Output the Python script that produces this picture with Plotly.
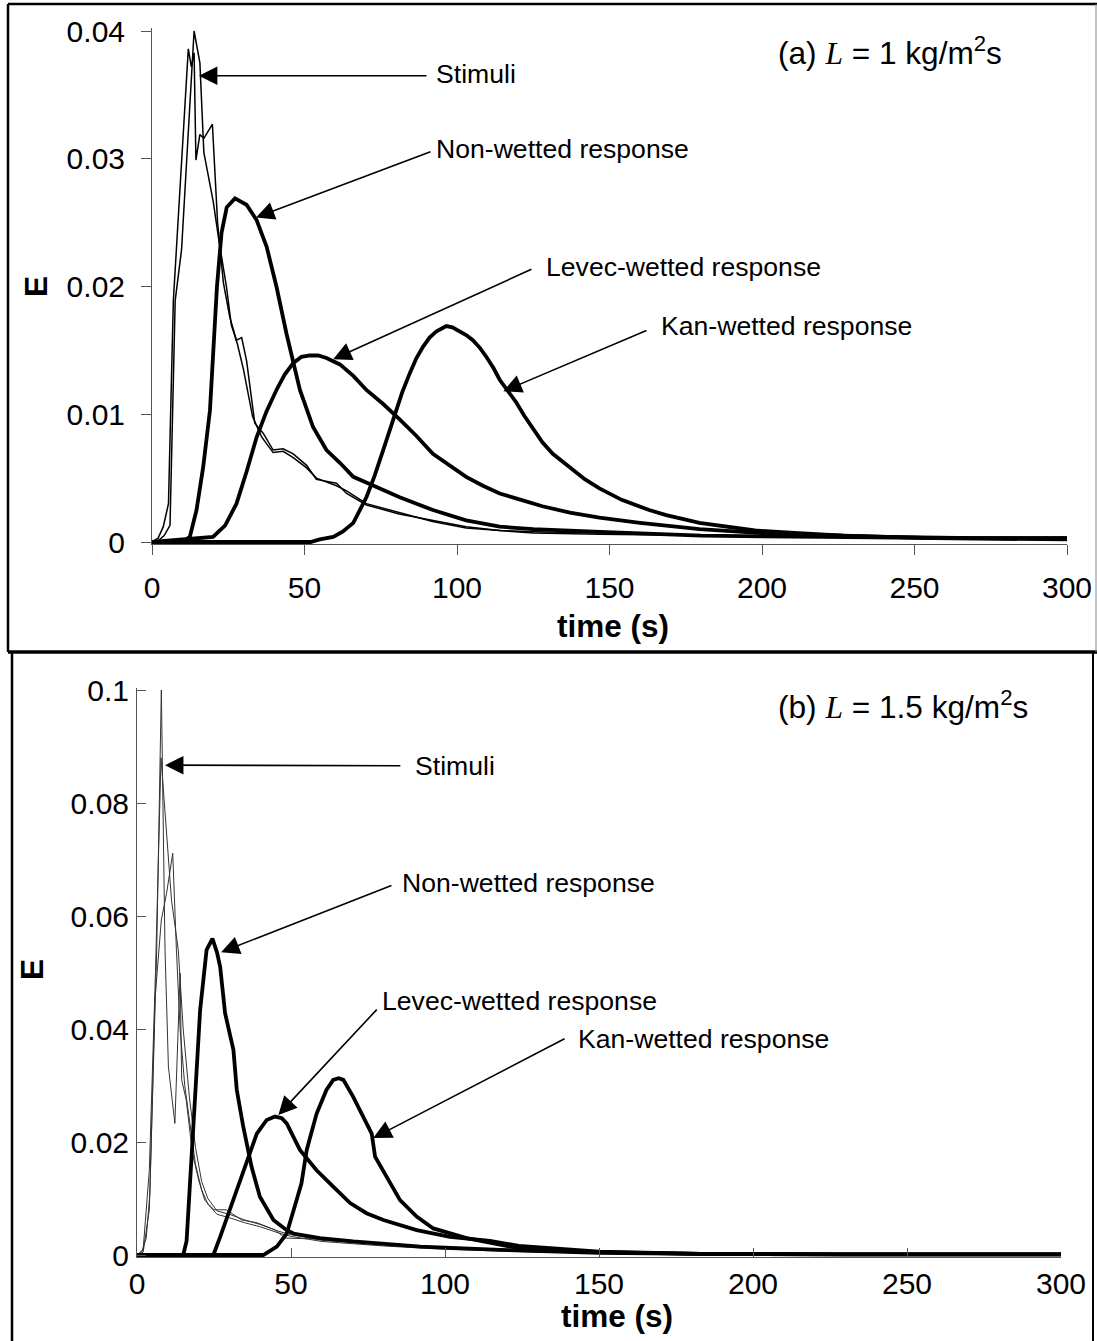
import plotly.graph_objects as go

# ---------------- data: panel (a), L = 1 kg/m2s ----------------
a_stim1_t = [0, 2, 3.7, 5.4, 7, 11.9, 12.9, 13.8, 14.4, 15.7, 17, 19.8, 21.5, 23.4, 25.5, 27.7, 29.4, 31, 33.7,
             36.5, 39.7, 43, 46.3, 50.7, 53.9, 60.5, 63.8, 70.3, 81, 92, 103, 114, 125, 147, 180, 220, 260, 300]
a_stim1_E = [0, 0.0003, 0.0012, 0.003, 0.0189, 0.0386, 0.0372, 0.0383, 0.0299, 0.0319, 0.0316, 0.0327, 0.0250,
             0.0203, 0.0176, 0.0158, 0.0160, 0.0142, 0.0093, 0.0085, 0.0072, 0.0073, 0.0069, 0.0060, 0.0049,
             0.0046, 0.0038, 0.0029, 0.0022, 0.0017, 0.0012, 0.0009, 0.0008, 0.0007, 0.0005, 0.0004, 0.0003, 0.0002]

a_stim2_t = [0, 2, 4, 5.9, 7.6, 9.7, 13.8, 15.7, 17, 20.1, 22, 24.4, 26, 28, 30, 33, 36, 39.7, 43, 46.3, 50.7,
             53.9, 60.5, 63.8, 70.3, 81, 92, 103, 114, 125, 147, 180, 220, 260, 300]
a_stim2_E = [0, 0.0001, 0.0005, 0.0013, 0.0189, 0.0229, 0.0400, 0.0375, 0.0305, 0.0266, 0.0235, 0.0200, 0.0170,
             0.0155, 0.0135, 0.0098, 0.0082, 0.0070, 0.0071, 0.0066, 0.0058, 0.0050, 0.0044, 0.0040, 0.0030,
             0.0023, 0.0016, 0.0011, 0.0009, 0.0007, 0.0006, 0.0005, 0.0004, 0.0003, 0.0002]

a_nonwet_t = [0, 10, 12.4, 14.6, 16.8, 19, 21.3, 22.8, 24.5, 27.2, 31, 34.3, 37.6, 40.8, 44.1, 48.5, 52.8, 57.2,
              61.6, 66, 73.6, 81.2, 92.1, 103, 114, 125, 147, 180, 220, 260, 300]
a_nonwet_E = [0, 0, 0.0004, 0.0025, 0.0059, 0.0103, 0.0200, 0.0242, 0.0262, 0.0269, 0.0264, 0.0252, 0.0231,
              0.0200, 0.0163, 0.0119, 0.0090, 0.0072, 0.0062, 0.0051, 0.0043, 0.0035, 0.0025, 0.0017, 0.0012,
              0.0010, 0.0008, 0.0005, 0.0004, 0.0003, 0.0003]

a_levec_t = [0, 20, 24, 27.7, 31, 34.3, 37.5, 40.8, 43.5, 46.3, 49, 51.8, 54.5, 57.2, 61.6, 66, 70.3, 75.8, 81.2,
             86.7, 92.1, 97.6, 103, 108.5, 114, 121, 128, 137, 146.7, 160, 179.5, 200, 212, 240, 270, 300]
a_levec_E = [0, 0.0004, 0.0013, 0.0030, 0.0055, 0.0082, 0.0102, 0.0119, 0.0131, 0.0140, 0.0145, 0.0146, 0.0146,
             0.0144, 0.0139, 0.0130, 0.0119, 0.0108, 0.0096, 0.0083, 0.0069, 0.0060, 0.0051, 0.0044, 0.0038,
             0.0033, 0.0028, 0.0023, 0.0019, 0.0015, 0.0010, 0.0007, 0.0006, 0.0004, 0.0003, 0.0003]

a_kan_t = [0, 52, 55, 59.4, 62.5, 66, 70.3, 73, 75.8, 78, 80.1, 82, 84.5, 86.7, 88.9, 91, 93.3, 96.5, 98.5, 100.9,
           103, 105.2, 107.5, 109.6, 112, 114, 117, 119.5, 122, 125, 128, 131.4, 135, 138, 142, 146.7, 154, 163,
           168.6, 179.5, 197.7, 212, 226.7, 256, 300]
a_kan_E = [0, 0, 0.0002, 0.0004, 0.0008, 0.0015, 0.0035, 0.0052, 0.0072, 0.0088, 0.0103, 0.0117, 0.0132, 0.0144,
           0.0153, 0.0160, 0.0165, 0.0169, 0.0168, 0.0165, 0.0162, 0.0158, 0.0152, 0.0145, 0.0136, 0.0127,
           0.0117, 0.0109, 0.0099, 0.0088, 0.0078, 0.0069, 0.0062, 0.0056, 0.0049, 0.0042, 0.0033, 0.0025,
           0.0021, 0.0015, 0.0009, 0.0007, 0.0005, 0.0003, 0.0002]

# ---------------- data: panel (b), L = 1.5 kg/m2s ----------------
b_stim1_t = [0, 2, 4, 6.4, 7.9, 9.1, 10.2, 12.3, 14, 14.5, 16, 18, 20, 22, 25, 29, 34, 39, 45, 48, 60, 80, 100,
             130, 160, 200, 300]
b_stim1_E = [0, 0.0005, 0.008, 0.054, 0.100, 0.054, 0.0333, 0.0233, 0.0499, 0.031, 0.0274, 0.018, 0.0133,
             0.0097, 0.0080, 0.0080, 0.0062, 0.0057, 0.0044, 0.0030, 0.0028, 0.0020, 0.0013, 0.0007, 0.0004,
             0.0002, 0.0001]

b_stim2_t = [0, 2, 4, 6, 7.8, 9.5, 11.2, 13.4, 15, 17, 19, 21, 23, 26, 30, 35, 40, 46, 50, 60, 80, 100, 130, 160,
             200, 300]
b_stim2_E = [0, 0.001, 0.015, 0.050, 0.088, 0.075, 0.0628, 0.054, 0.040, 0.028, 0.019, 0.013, 0.010, 0.0078,
             0.0072, 0.0062, 0.0054, 0.0042, 0.0036, 0.0026, 0.0018, 0.0012, 0.0006, 0.0003, 0.0002, 0.0001]

b_stim3_t = [0, 1.5, 3, 4.2, 5.8, 7.9, 9.6, 11.6, 12.8, 14, 15.5, 17, 19, 21, 23, 26, 30, 35, 40, 46, 50, 60, 80,
             100, 130, 160, 200, 300]
b_stim3_E = [0, 0.0005, 0.003, 0.011, 0.045, 0.0593, 0.064, 0.0711, 0.054, 0.040, 0.030, 0.024, 0.016, 0.0115,
             0.0090, 0.0072, 0.0066, 0.0057, 0.0050, 0.0039, 0.0033, 0.0024, 0.0016, 0.0010, 0.0005, 0.0003,
             0.0001, 0.0001]

b_nonwet_t = [0, 15, 16.1, 17.2, 18.8, 20.5, 22.6, 24.5, 26, 27, 28.6, 31.3, 32.4, 34.5, 37.2, 39.9, 44.3, 48.6,
              50.8, 59.4, 70.2, 92, 118, 150, 183, 230, 300]
b_nonwet_E = [0, 0, 0.0025, 0.012, 0.0274, 0.0434, 0.054, 0.056, 0.0535, 0.051, 0.0428, 0.0363, 0.0292, 0.0227,
              0.0156, 0.0103, 0.0062, 0.0044, 0.0038, 0.0030, 0.0024, 0.0015, 0.0009, 0.0004, 0.0002, 0.0001,
              0.0001]

b_levec_t = [0, 24.8, 27, 31.3, 35.6, 38.9, 42.1, 44.8, 47, 48.6, 52.9, 58.3, 63.7, 69.2, 74.5, 80, 90.8, 101.6,
             114.6, 124, 150, 183, 230, 300]
b_levec_E = [0, 0, 0.0032, 0.0097, 0.0162, 0.0215, 0.0239, 0.0245, 0.0242, 0.0233, 0.0186, 0.0150, 0.0121,
             0.0092, 0.0074, 0.0062, 0.0044, 0.0032, 0.0025, 0.0016, 0.0006, 0.0002, 0.0001, 0.0001]

b_kan_t = [0, 41, 45.4, 48.6, 51.8, 53.4, 55.1, 58.3, 61.5, 63.7, 65.5, 67, 70.2, 73.5, 76.2, 77.3, 81, 85.4,
           90.8, 96.2, 107, 124, 150, 183, 230, 300]
b_kan_E = [0, 0, 0.0015, 0.0038, 0.0097, 0.0127, 0.0186, 0.0250, 0.0292, 0.0310, 0.0313, 0.0310, 0.0280, 0.0245,
           0.0215, 0.0174, 0.0139, 0.0097, 0.0068, 0.0047, 0.0030, 0.0012, 0.0005, 0.0002, 0.0001, 0.0001]

# ---------------- tick labels ----------------
x_ticks = [0, 50, 100, 150, 200, 250, 300]
x_ticktext = ["0", "50", "100", "150", "200", "250", "300"]
a_yticks = [0, 0.01, 0.02, 0.03, 0.04]
a_yticktext = ["0", "0.01", "0.02", "0.03", "0.04"]
b_yticks = [0, 0.02, 0.04, 0.06, 0.08, 0.1]
b_yticktext = ["0", "0.02", "0.04", "0.06", "0.08", "0.1"]

# ---------------- page geometry ----------------
W, H = 1097, 1341
SANS = "Liberation Sans, Arial, Helvetica, sans-serif"
SERIF = "Liberation Serif"


def fx(px):
    return px / W


def fy(py):
    return 1 - py / H


THICK = dict(color="black", width=3.8)
THIN_A = dict(color="black", width=1.5)
THIN_B = dict(color="#333333", width=1.0)

fig = go.Figure()


def add(t, e, line, xa, ya):
    fig.add_trace(go.Scatter(x=t, y=e, mode="lines", line=line, xaxis=xa, yaxis=ya,
                             showlegend=False, hoverinfo="skip"))


# panel (a)
add(a_stim1_t, a_stim1_E, THIN_A, "x", "y")
add(a_stim2_t, a_stim2_E, THIN_A, "x", "y")
add(a_nonwet_t, a_nonwet_E, THICK, "x", "y")
add(a_levec_t, a_levec_E, THICK, "x", "y")
add(a_kan_t, a_kan_E, THICK, "x", "y")
# panel (b)
add(b_stim1_t, b_stim1_E, THIN_B, "x2", "y2")
add(b_stim2_t, b_stim2_E, THIN_B, "x2", "y2")
add(b_stim3_t, b_stim3_E, THIN_B, "x2", "y2")
add(b_nonwet_t, b_nonwet_E, THICK, "x2", "y2")
add(b_levec_t, b_levec_E, THICK, "x2", "y2")
add(b_kan_t, b_kan_E, THICK, "x2", "y2")

AXCOL = "#555555"
tickfont = dict(family=SANS, size=30, color="black")

common_x = dict(range=[0, 300], tickmode="array", tickvals=x_ticks, ticktext=x_ticktext,
                showline=True, linecolor=AXCOL, linewidth=1, showgrid=False, zeroline=False,
                tickcolor=AXCOL, tickwidth=1, tickfont=tickfont, fixedrange=True, automargin=False)
common_y = dict(showline=True, linecolor=AXCOL, linewidth=1, showgrid=False, zeroline=False,
                tickcolor=AXCOL, tickwidth=1, tickfont=tickfont, tickmode="array", fixedrange=True,
                automargin=False)

# panel (a): 0 s at x=152 px, 300 s at x=1067 px; E=0 at y=542 px, 0.04 at y=31 px
a_pad_lo, a_pad_hi = 0.00015, 0.0002
a_scale = (542 - 31) / 0.04
# panel (b): 0 s at x=137 px, 300 s at x=1061 px; E=0 at y=1255 px, 0.1 at y=690 px
b_pad_lo, b_pad_hi = 0.0004, 0.0004
b_scale = (1255 - 690) / 0.1

fig.update_layout(
    width=W, height=H,
    margin=dict(l=0, r=0, t=0, b=0, pad=0, autoexpand=False),
    paper_bgcolor="white", plot_bgcolor="white",
    showlegend=False,
    xaxis=dict(common_x, domain=[fx(152), fx(1067)], anchor="y", ticks="outside", ticklen=10,
               ticklabelstandoff=7),
    yaxis=dict(common_y, range=[-a_pad_lo, 0.04 + a_pad_hi],
               domain=[fy(542 + a_pad_lo * a_scale), fy(31 - a_pad_hi * a_scale)],
               anchor="x", ticks="outside", ticklen=10, tickvals=a_yticks, ticktext=a_yticktext,
               ticklabelstandoff=10),
    xaxis2=dict(common_x, domain=[fx(137), fx(1061)], anchor="y2", ticks="inside", ticklen=9,
                ticklabelstandoff=0),
    yaxis2=dict(common_y, range=[-b_pad_lo, 0.1 + b_pad_hi],
                domain=[fy(1255 + b_pad_lo * b_scale), fy(690 - b_pad_hi * b_scale)],
                anchor="x2", ticks="inside", ticklen=9, tickvals=b_yticks, ticktext=b_yticktext,
                ticklabelstandoff=1),
)

annfont = dict(family=SANS, size=26.6, color="black")
titlefont = dict(family=SANS, size=31.6, color="black")
anns = []


def label(x, y, text, xr, yr, font=annfont):
    anns.append(dict(x=x, y=y, xref=xr, yref=yr, text=text, showarrow=False, xanchor="left",
                     yanchor="middle", font=font))


def arrow(x, y, ax, ay, xr, yr):
    anns.append(dict(x=x, y=y, xref=xr, yref=yr, ax=ax, ay=ay, axref=xr, ayref=yr, text="",
                     showarrow=True, arrowhead=2, arrowsize=2.3, arrowwidth=1.6, arrowcolor="black",
                     standoff=0, startstandoff=0))


# panel (a) callouts
arrow(15.4, 0.0365, 90.5, 0.0365, "x", "y")
label(92.5, 0.0366, "Stimuli", "x", "y")
arrow(34.1, 0.0254, 91.8, 0.0306, "x", "y")
label(92.5, 0.0308, "Non-wetted response", "x", "y")
arrow(59.4, 0.0143, 124.9, 0.0214, "x", "y")
label(128.5, 0.0215, "Levec-wetted response", "x", "y")
arrow(115.2, 0.0118, 162.6, 0.0166, "x", "y")
label(166.3, 0.0169, "Kan-wetted response", "x", "y")
label(204.5, 0.0384,
      "(a) <span style='font-family:" + SERIF + ";font-style:italic'>L</span> = 1 kg/m<sup>2</sup>s",
      "x", "y", titlefont)

# panel (b) callouts
arrow(9.1, 0.0867, 86.0, 0.0866, "x2", "y2")
label(89.7, 0.0866, "Stimuli", "x2", "y2")
arrow(27.3, 0.0536, 83.1, 0.0655, "x2", "y2")
label(85.5, 0.0658, "Non-wetted response", "x2", "y2")
arrow(45.9, 0.0248, 78.3, 0.0437, "x2", "y2")
label(79.0, 0.0450, "Levec-wetted response", "x2", "y2")
arrow(76.7, 0.0207, 139.3, 0.0384, "x2", "y2")
label(142.6, 0.0382, "Kan-wetted response", "x2", "y2")
label(207.4, 0.0974,
      "(b) <span style='font-family:" + SERIF + ";font-style:italic'>L</span> = 1.5 kg/m<sup>2</sup>s",
      "x2", "y2", titlefont)

# axis titles
boldfont = dict(family=SANS, size=31.5, color="black")
for (x, y, txt, ang) in [(36, 287, "<b>E</b>", -90), (613, 626, "<b>time (s)</b>", 0),
                         (32, 970, "<b>E</b>", -90), (617, 1316, "<b>time (s)</b>", 0)]:
    anns.append(dict(x=fx(x), y=fy(y), xref="paper", yref="paper", text=txt, showarrow=False,
                     xanchor="center", yanchor="middle", textangle=ang, font=boldfont))

fig.update_layout(annotations=anns)

# panel frames
shapes = []


def seg(x0, y0, x1, y1, w, c="black"):
    shapes.append(dict(type="line", xref="paper", yref="paper", x0=fx(x0), y0=fy(y0), x1=fx(x1), y1=fy(y1),
                       line=dict(color=c, width=w), layer="above"))


seg(8, 4, 1097, 4, 2.5)
seg(8, 4, 8, 652, 2.5)
seg(8, 652, 1097, 652, 3.5)
seg(1096, 4, 1096, 652, 1, "#888888")
seg(12, 652, 12, 1341, 2.5)
seg(1093, 652, 1093, 1341, 2)
fig.update_layout(shapes=shapes)

fig.write_html("out.html")
